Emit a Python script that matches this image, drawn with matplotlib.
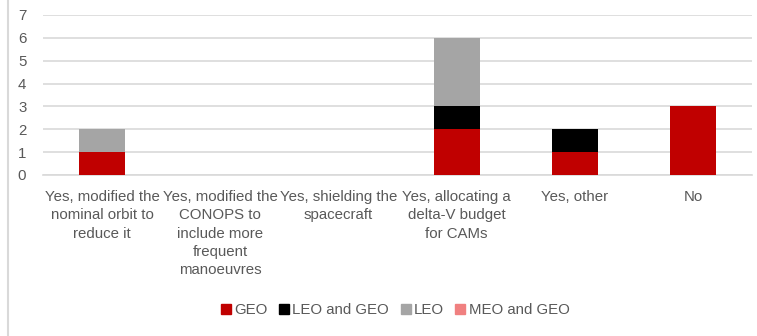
import matplotlib
matplotlib.use('Agg')
from matplotlib import pyplot as plt
from matplotlib.lines import Line2D
import numpy as np

categories = ['Yes, modified the\nnominal orbit to\nreduce it',
              'Yes, modified the\nCONOPS to\ninclude more\nfrequent\nmanoeuvres',
              'Yes, shielding the\nspacecraft',
              'Yes, allocating a\ndelta-V budget\nfor CAMs',
              'Yes, other',
              'No']
geo = [1, 0, 0, 2, 1, 3]
leo_and_geo = [0, 0, 0, 1, 1, 0]
leo = [1, 0, 0, 3, 0, 0]
meo_and_geo = [0, 0, 0, 0, 0, 0]

series = [('GEO', geo, '#c00000'),
          ('LEO and GEO', leo_and_geo, '#000000'),
          ('LEO', leo, '#a5a5a5'),
          ('MEO and GEO', meo_and_geo, '#f08080')]

plt.rcParams['font.family'] = ['Liberation Sans', 'DejaVu Sans']
fig = plt.figure(figsize=(7.57, 3.36), dpi=100)
ax = fig.add_axes([43/757, 1-175/336, 709/757, 160/336])

x = np.arange(len(categories))
bottom = np.zeros(len(categories))
for name, vals, col in series:
    vals = np.array(vals, dtype=float)
    ax.bar(x, vals, 0.39, bottom=bottom, color=col, zorder=3)
    bottom += vals

ax.set_xlim(-0.5, len(categories) - 0.5)
ax.set_ylim(0, 7)
ax.set_yticks(range(0, 8))
ax.yaxis.grid(True, color='#d9d9d9', linewidth=1.2, zorder=0)
ax.set_axisbelow(True)
for s in ['top', 'right', 'left']:
    ax.spines[s].set_visible(False)
ax.spines['bottom'].set_color('#d9d9d9')
ax.spines['bottom'].set_linewidth(1.2)
ax.set_xticks(x)
ax.set_xticklabels(categories, fontsize=10.8, color='#595959', linespacing=1.38, va='top')
ax.tick_params(axis='x', length=0, pad=11)
ax.tick_params(axis='y', length=0, pad=12, labelsize=10.8, labelcolor='#595959')

handles = [Line2D([], [], marker='s', linestyle='', markersize=7, color=col) for _, _, col in series]
fig.legend(handles, [s[0] for s in series], loc='center', bbox_to_anchor=(394/757, 1-310/336),
           ncol=4, frameon=False, fontsize=10.8, labelcolor='#595959',
           handletextpad=0.05, columnspacing=0.6, handlelength=1.0)

# thin frame line on the left edge
fig.add_artist(Line2D([8/757, 8/757], [0, 1], color='#d9d9d9', linewidth=1.5))

fig.savefig('out.png', dpi=100)
